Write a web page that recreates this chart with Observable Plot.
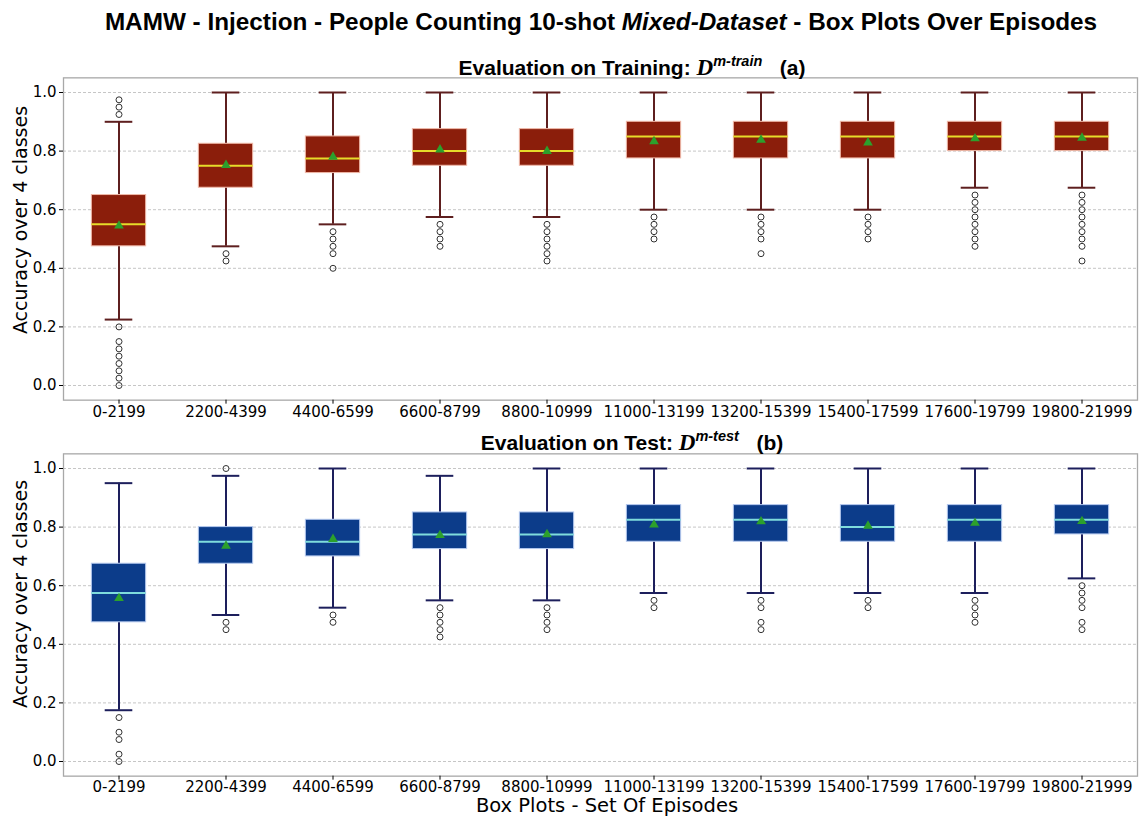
<!DOCTYPE html>
<html><head><meta charset="utf-8">
<script src="https://cdn.jsdelivr.net/npm/d3@7"></script>
<script src="https://cdn.jsdelivr.net/npm/@observablehq/plot@0.6"></script>
<style>
body{margin:0;background:#fff;}
#wrap{position:relative;width:1140px;height:818px;overflow:hidden;font-family:"Liberation Sans",Arial,sans-serif;}
#wrap svg{position:absolute;left:0;background:transparent !important;}
.t{position:absolute;white-space:nowrap;color:#000;line-height:1;}
#main{left:601px;transform:translateX(-50%);top:10px;font-weight:bold;font-size:24.3px;}
.sub{font-weight:bold;font-size:21px;transform:translateX(-50%);}
.D{font-family:"Liberation Serif","Times New Roman",serif;font-style:italic;font-size:23px;}
.sup{font-style:italic;font-size:14.5px;position:relative;top:-9px;}
.ax{font-family:"DejaVu Sans",sans-serif;font-size:19px;}
.ylab{transform:translate(-50%,-50%) rotate(-90deg);}
</style></head>
<body><div id="wrap"></div>
<script>
const categories = ["0-2199","2200-4399","4400-6599","6600-8799","8800-10999","11000-13199","13200-15399","15400-17599","17600-19799","19800-21999"];
const yTicks = [0.0,0.2,0.4,0.6,0.8,1.0];

// Training panel (a)
const trainLow    = [0.225,0.475,0.55,0.575,0.575,0.6,0.6,0.6,0.675,0.675];
const trainQ1     = [0.475,0.675,0.725,0.75,0.75,0.775,0.775,0.775,0.8,0.8];
const trainMedian = [0.55,0.75,0.775,0.8,0.8,0.85,0.85,0.85,0.85,0.85];
const trainQ3     = [0.65,0.825,0.85,0.875,0.875,0.9,0.9,0.9,0.9,0.9];
const trainHigh   = [0.9,1.0,1.0,1.0,1.0,1.0,1.0,1.0,1.0,1.0];
const trainMean   = [0.545,0.752,0.78,0.805,0.8,0.833,0.838,0.829,0.843,0.845];
const trainOutliers = [
  [0.975,0.95,0.925,0.2,0.15,0.125,0.1,0.075,0.05,0.025,0.0],
  [0.45,0.425],
  [0.525,0.5,0.475,0.45,0.4],
  [0.55,0.525,0.5,0.475],
  [0.55,0.525,0.5,0.475,0.45,0.425],
  [0.575,0.55,0.525,0.5],
  [0.575,0.55,0.525,0.5,0.45],
  [0.575,0.55,0.525,0.5],
  [0.65,0.625,0.6,0.575,0.55,0.525,0.5,0.475],
  [0.65,0.625,0.6,0.575,0.55,0.525,0.5,0.475,0.425]
];

// Test panel (b)
const testLow    = [0.175,0.5,0.525,0.55,0.55,0.575,0.575,0.575,0.575,0.625];
const testQ1     = [0.475,0.675,0.7,0.725,0.725,0.75,0.75,0.75,0.75,0.775];
const testMedian = [0.575,0.75,0.75,0.775,0.775,0.825,0.825,0.8,0.825,0.825];
const testQ3     = [0.675,0.8,0.825,0.85,0.85,0.875,0.875,0.875,0.875,0.875];
const testHigh   = [0.95,0.975,1.0,0.975,1.0,1.0,1.0,1.0,1.0,1.0];
const testMean   = [0.557,0.736,0.759,0.772,0.775,0.808,0.819,0.804,0.814,0.82];
const testOutliers = [
  [0.15,0.1,0.075,0.025,0.0],
  [1.0,0.475,0.45],
  [0.5,0.475],
  [0.525,0.5,0.475,0.45,0.425],
  [0.525,0.5,0.475,0.45],
  [0.55,0.525],
  [0.55,0.525,0.475,0.45],
  [0.55,0.525],
  [0.55,0.525,0.5,0.475],
  [0.6,0.575,0.55,0.525,0.475,0.45]
];

const wrap = document.getElementById("wrap");
const bandW = 1074 / 10;
const boxInset = (bandW - 54.7) / 2;
const capInset = (bandW - 28) / 2;

function panel(cfg) {
  const rows = categories.map((c, i) => ({cat: c, lo: cfg.low[i], q1: cfg.q1[i], med: cfg.median[i], q3: cfg.q3[i], hi: cfg.high[i], mean: cfg.mean[i]}));
  const outs = categories.flatMap((c, i) => cfg.outliers[i].map(v => ({cat: c, v})));
  return Plot.plot({
    width: 1140, height: cfg.height,
    marginLeft: 63, marginRight: 3, marginTop: cfg.mt, marginBottom: cfg.mb,
    style: {fontFamily: "DejaVu Sans, sans-serif", fontSize: "15px", color: "#000", background: "transparent"},
    x: {type: "band", domain: categories, padding: 0},
    y: {domain: [-0.05, 1.05]},
    marks: [
      Plot.gridY(yTicks, {stroke: "#b8b8b8", strokeOpacity: 1, strokeDasharray: "3,2", strokeWidth: 0.8}),
      Plot.frame({stroke: "#a8a8a8", strokeWidth: 1.3}),
      Plot.ruleX(rows, {x: "cat", y1: "lo", y2: "q1", stroke: cfg.whisker, strokeWidth: 2}),
      Plot.ruleX(rows, {x: "cat", y1: "q3", y2: "hi", stroke: cfg.whisker, strokeWidth: 2}),
      Plot.tickY(rows, {x: "cat", y: "lo", stroke: cfg.whisker, strokeWidth: 2, insetLeft: capInset, insetRight: capInset}),
      Plot.tickY(rows, {x: "cat", y: "hi", stroke: cfg.whisker, strokeWidth: 2, insetLeft: capInset, insetRight: capInset}),
      Plot.barY(rows, {x: "cat", y1: "q1", y2: "q3", fill: cfg.fill, stroke: cfg.edge, strokeWidth: 1, insetLeft: boxInset, insetRight: boxInset}),
      Plot.tickY(rows, {x: "cat", y: "med", stroke: cfg.medianColor, strokeWidth: 2, insetLeft: boxInset, insetRight: boxInset}),
      Plot.dot(rows, {x: "cat", y: "mean", symbol: "triangle", fill: "#2ca02c", r: 3.6}),
      Plot.dot(outs, {x: "cat", y: "v", r: 3, stroke: "#333", strokeWidth: 1, fill: "none"}),
      Plot.axisY(yTicks, {tickFormat: d3.format(".1f"), tickSize: 4, tickPadding: 3, label: null, fontSize: 15}),
      Plot.axisX({tickSize: 4, tickPadding: cfg.xpad, label: null, fontSize: 15})
    ]
  });
}

const p1 = panel({height: 435, mt: 77.35, mb: 35.35, xpad: 2,
  low: trainLow, q1: trainQ1, median: trainMedian, q3: trainQ3, high: trainHigh, mean: trainMean, outliers: trainOutliers,
  fill: "#8b1e0b", edge: "#efb8a8", whisker: "#5e1f1f", medianColor: "#e6dc2a"});
p1.style.top = "0px";
wrap.appendChild(p1);

const p2 = panel({height: 383, mt: 18.35, mb: 42.35, xpad: 1,
  low: testLow, q1: testQ1, median: testMedian, q3: testQ3, high: testHigh, mean: testMean, outliers: testOutliers,
  fill: "#0c3c8a", edge: "#b4c8ee", whisker: "#1d1f5c", medianColor: "#7fdcdc"});
p2.style.top = "435px";
wrap.appendChild(p2);

function addText(html, cls, css) {
  const d = document.createElement("div");
  d.className = "t " + cls;
  d.innerHTML = html;
  Object.assign(d.style, css);
  wrap.appendChild(d);
  return d;
}
addText('MAMW - Injection - People Counting 10-shot <i>Mixed-Dataset</i> - Box Plots Over Episodes', "", {}).id = "main";
addText('Evaluation on Training: <span class="D">D</span><span class="sup">m-train</span>&nbsp;&nbsp;&nbsp;(a)', "sub", {left: "632px", top: "56px"});
addText('Evaluation on Test: <span class="D">D</span><span class="sup">m-test</span>&nbsp;&nbsp;&nbsp;(b)', "sub", {left: "632px", top: "431px"});
addText('Accuracy over 4 classes', "ax ylab", {left: "20px", top: "220px"});
addText('Accuracy over 4 classes', "ax ylab", {left: "20px", top: "594px"});
addText('Box Plots - Set Of Episodes', "ax", {left: "607px", top: "796px", fontSize: "19.5px", transform: "translateX(-50%)"});
</script>
</body></html>
